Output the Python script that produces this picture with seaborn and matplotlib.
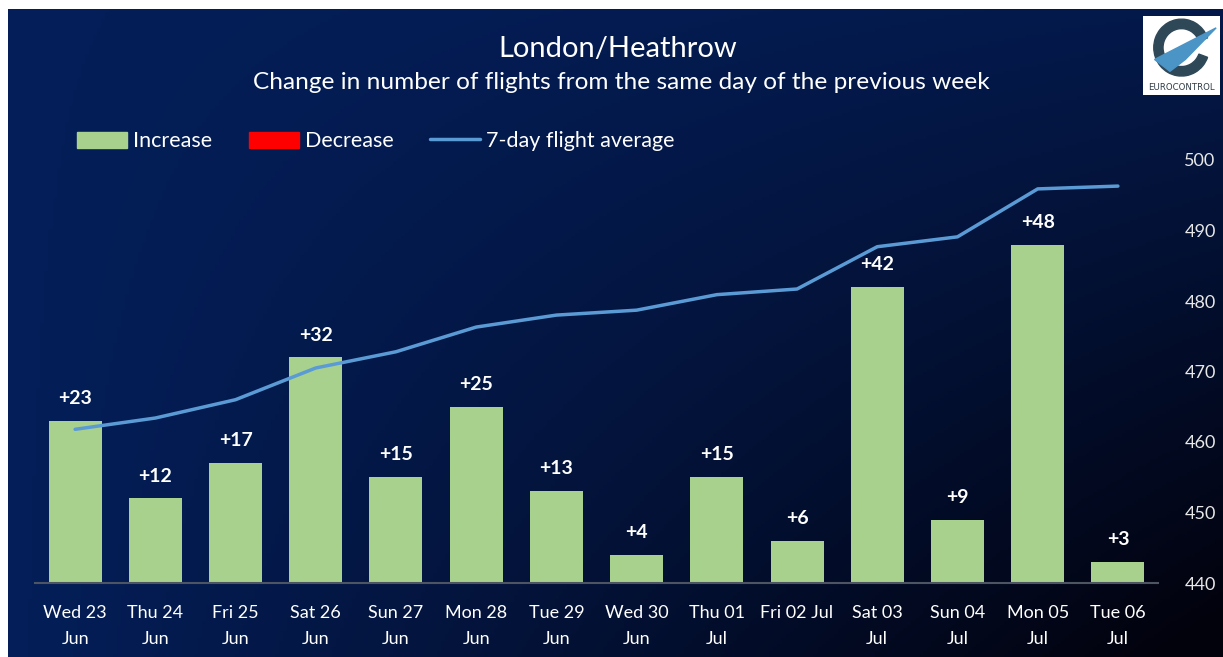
import numpy as np
import pandas as pd
import matplotlib.pyplot as plt
import seaborn as sns
from matplotlib.patches import Patch, Wedge, Polygon
from matplotlib.lines import Line2D

# data
days = ['Wed 23\nJun', 'Thu 24\nJun', 'Fri 25\nJun', 'Sat 26\nJun', 'Sun 27\nJun',
        'Mon 28\nJun', 'Tue 29\nJun', 'Wed 30\nJun', 'Thu 01\nJul', 'Fri 02 Jul',
        'Sat 03\nJul', 'Sun 04\nJul', 'Mon 05\nJul', 'Tue 06\nJul']
change = [23, 12, 17, 32, 15, 25, 13, 4, 15, 6, 42, 9, 48, 3]
avg7 = [461.8, 463.4, 466.0, 470.5, 472.8, 476.3, 478.0, 478.7, 480.9, 481.7,
        487.7, 489.1, 495.9, 496.3]
right_ticks = [440, 450, 460, 470, 480, 490, 500]

df = pd.DataFrame({'day': days, 'change': change, 'avg': avg7, 'pos': np.arange(len(days))})

sns.set_style('white')
plt.rcParams['font.family'] = ['Lato', 'DejaVu Sans']

green = '#a9d18e'
blue = '#5b9bd5'

fig = plt.figure(figsize=(12.23, 6.57), dpi=100, facecolor='white')

# gradient background panel (navy on the left, almost black bottom right)
bg = fig.add_axes([8 / 1223, 0, 1 - 8 / 1223, 1 - 9 / 657], zorder=-10)
gx, gy = np.meshgrid(np.linspace(0, 1, 300), np.linspace(0, 1, 200))
t = np.clip(gx * (0.2 + 0.85 * gy), 0, 1)
c0 = np.array([0.015, 0.12, 0.35])
c1 = np.array([0.008, 0.008, 0.05])
img = c0[None, None, :] * (1 - t[..., None]) + c1[None, None, :] * t[..., None]
bg.imshow(img, aspect='auto', extent=[0, 1, 0, 1], origin='upper')
bg.set_axis_off()

ax = fig.add_axes([35 / 1223, 1 - 583 / 657, (1158 - 35) / 1223, (583 - 160) / 657])
ax.set_facecolor('none')
sns.barplot(data=df, x='day', y='change', color=green, width=0.66, saturation=1,
            linewidth=0, ax=ax)
ax.set_ylim(0, 60)
ax.set_xlim(-0.5, 13.5)
ax.set_yticks([])
ax.set_xlabel('')
ax.set_ylabel('')
ax.bar_label(ax.containers[0], labels=[f'+{v}' for v in change], padding=10,
             color='white', fontweight='bold', fontsize=14)
ax.tick_params(axis='x', colors='white', labelsize=13, length=0, pad=16)
for lab in ax.get_xticklabels():
    lab.set_linespacing(1.75)
for s in ['top', 'left', 'right']:
    ax.spines[s].set_visible(False)
ax.spines['bottom'].set_color('#4d5562')
ax.spines['bottom'].set_linewidth(1.5)

ax2 = ax.twinx()
sns.lineplot(data=df, x='pos', y='avg', color=blue, linewidth=2.5, ax=ax2)
ax2.set_ylim(440, 500)
ax2.set_xlim(-0.5, 13.5)
ax2.set_yticks(right_ticks)
ax2.set_ylabel('')
ax2.set_xlabel('')
ax2.tick_params(axis='y', colors='#e8e8e8', labelsize=13, length=0, pad=19)
for s in ax2.spines.values():
    s.set_visible(False)

fig.text(0.505, 0.925, 'London/Heathrow', color='white', fontsize=21, ha='center', va='center')
fig.text(0.508, 0.874, 'Change in number of flights from the same day of the previous week',
         color='white', fontsize=17.6, ha='center', va='center')

handles = [Patch(color=green), Patch(color='#ff0000'), Line2D([0], [0], color=blue, lw=2.5)]
fig.legend(handles, ['Increase', 'Decrease', '7-day flight average'], loc='center left',
           bbox_to_anchor=(0.047, 0.785), ncol=3, frameon=False, fontsize=15.5,
           labelcolor='white', handlelength=2.35, handleheight=0.8, handletextpad=0.25,
           columnspacing=1.7)

# logo approximation
lg = fig.add_axes([1143 / 1223, 1 - 95 / 657, 77 / 1223, 79 / 657])
lg.set_facecolor('white')
lg.set_xlim(0, 1)
lg.set_ylim(0, 1)
lg.add_patch(Wedge((0.5, 0.6), 0.36, 20, 340, width=0.12, color='#2f4858'))
lg.add_patch(Polygon([[0.15, 0.45], [0.95, 0.85], [0.55, 0.45], [0.35, 0.3]], color='#4b94c6'))
lg.text(0.5, 0.1, 'EUROCONTROL', fontsize=6.2, color='#2f3b45', ha='center', va='center',
        family=['DejaVu Sans'])
lg.set_xticks([])
lg.set_yticks([])
for s in lg.spines.values():
    s.set_visible(False)

fig.savefig('out.png', dpi=100, facecolor='white')
